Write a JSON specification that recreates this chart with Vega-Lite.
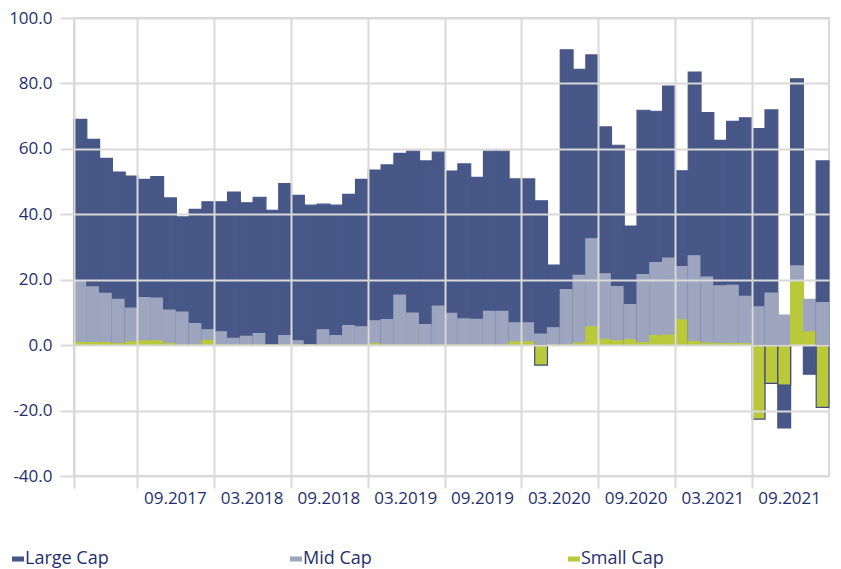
{
  "$schema": "https://vega.github.io/schema/vega-lite/v6.json",
  "width": 755,
  "height": 458,
  "autosize": {"type": "none"},
  "padding": {"left": 74, "top": 18, "right": 12, "bottom": 93},
  "background": "white",
  "config": {"font": "Open Sans", "view": {"stroke": "#d9d9d9", "strokeWidth": 2}},
  "data": {"values": [
    {"month": "04.2017", "Large Cap": 69.0, "Mid Cap": 19.6, "Small Cap": 0.8},
    {"month": "05.2017", "Large Cap": 62.9, "Mid Cap": 17.8, "Small Cap": 0.8},
    {"month": "06.2017", "Large Cap": 57.1, "Mid Cap": 15.8, "Small Cap": 0.8},
    {"month": "07.2017", "Large Cap": 52.9, "Mid Cap": 14.0, "Small Cap": 0.5},
    {"month": "08.2017", "Large Cap": 51.7, "Mid Cap": 11.3, "Small Cap": 1.0},
    {"month": "09.2017", "Large Cap": 50.7, "Mid Cap": 14.5, "Small Cap": 1.3},
    {"month": "10.2017", "Large Cap": 51.5, "Mid Cap": 14.4, "Small Cap": 1.3},
    {"month": "11.2017", "Large Cap": 45.0, "Mid Cap": 10.7, "Small Cap": 0.5},
    {"month": "12.2017", "Large Cap": 39.2, "Mid Cap": 10.1, "Small Cap": 0},
    {"month": "01.2018", "Large Cap": 41.5, "Mid Cap": 6.6, "Small Cap": 0},
    {"month": "02.2018", "Large Cap": 43.8, "Mid Cap": 4.7, "Small Cap": 1.5},
    {"month": "03.2018", "Large Cap": 43.8, "Mid Cap": 4.1, "Small Cap": 0},
    {"month": "04.2018", "Large Cap": 46.8, "Mid Cap": 2.1, "Small Cap": 0},
    {"month": "05.2018", "Large Cap": 43.5, "Mid Cap": 2.7, "Small Cap": 0},
    {"month": "06.2018", "Large Cap": 45.2, "Mid Cap": 3.5, "Small Cap": 0},
    {"month": "07.2018", "Large Cap": 41.2, "Mid Cap": 0, "Small Cap": 0},
    {"month": "08.2018", "Large Cap": 49.4, "Mid Cap": 2.9, "Small Cap": 0},
    {"month": "09.2018", "Large Cap": 45.8, "Mid Cap": 1.3, "Small Cap": 0},
    {"month": "10.2018", "Large Cap": 42.8, "Mid Cap": 0, "Small Cap": 0},
    {"month": "11.2018", "Large Cap": 43.1, "Mid Cap": 4.7, "Small Cap": 0},
    {"month": "12.2018", "Large Cap": 42.8, "Mid Cap": 2.9, "Small Cap": 0},
    {"month": "01.2019", "Large Cap": 46.1, "Mid Cap": 6.0, "Small Cap": 0},
    {"month": "02.2019", "Large Cap": 50.7, "Mid Cap": 5.6, "Small Cap": 0},
    {"month": "03.2019", "Large Cap": 53.5, "Mid Cap": 7.4, "Small Cap": 0.5},
    {"month": "04.2019", "Large Cap": 55.1, "Mid Cap": 7.8, "Small Cap": 0},
    {"month": "05.2019", "Large Cap": 58.6, "Mid Cap": 15.3, "Small Cap": 0},
    {"month": "06.2019", "Large Cap": 59.3, "Mid Cap": 9.8, "Small Cap": 0},
    {"month": "07.2019", "Large Cap": 56.3, "Mid Cap": 6.3, "Small Cap": 0},
    {"month": "08.2019", "Large Cap": 59.0, "Mid Cap": 11.9, "Small Cap": 0},
    {"month": "09.2019", "Large Cap": 53.2, "Mid Cap": 9.7, "Small Cap": 0},
    {"month": "10.2019", "Large Cap": 55.4, "Mid Cap": 8.0, "Small Cap": 0},
    {"month": "11.2019", "Large Cap": 51.3, "Mid Cap": 7.9, "Small Cap": 0},
    {"month": "12.2019", "Large Cap": 59.3, "Mid Cap": 10.3, "Small Cap": 0},
    {"month": "01.2020", "Large Cap": 59.3, "Mid Cap": 10.3, "Small Cap": 0},
    {"month": "02.2020", "Large Cap": 50.8, "Mid Cap": 6.8, "Small Cap": 1.0},
    {"month": "03.2020", "Large Cap": 50.8, "Mid Cap": 6.8, "Small Cap": 1.0},
    {"month": "04.2020", "Large Cap": 44.1, "Mid Cap": 3.4, "Small Cap": -6.1},
    {"month": "05.2020", "Large Cap": 24.5, "Mid Cap": 5.3, "Small Cap": 0},
    {"month": "06.2020", "Large Cap": 90.3, "Mid Cap": 17.0, "Small Cap": 0},
    {"month": "07.2020", "Large Cap": 84.3, "Mid Cap": 21.3, "Small Cap": 0.6},
    {"month": "08.2020", "Large Cap": 88.7, "Mid Cap": 32.5, "Small Cap": 5.6},
    {"month": "09.2020", "Large Cap": 66.7, "Mid Cap": 21.8, "Small Cap": 1.8},
    {"month": "10.2020", "Large Cap": 61.1, "Mid Cap": 17.9, "Small Cap": 1.3},
    {"month": "11.2020", "Large Cap": 36.4, "Mid Cap": 12.4, "Small Cap": 1.6},
    {"month": "12.2020", "Large Cap": 71.8, "Mid Cap": 21.6, "Small Cap": 0.8},
    {"month": "01.2021", "Large Cap": 71.5, "Mid Cap": 25.2, "Small Cap": 2.9},
    {"month": "02.2021", "Large Cap": 79.2, "Mid Cap": 26.6, "Small Cap": 3.1},
    {"month": "03.2021", "Large Cap": 53.3, "Mid Cap": 24.0, "Small Cap": 7.7},
    {"month": "04.2021", "Large Cap": 83.5, "Mid Cap": 27.3, "Small Cap": 1.1},
    {"month": "05.2021", "Large Cap": 71.1, "Mid Cap": 20.8, "Small Cap": 0.6},
    {"month": "06.2021", "Large Cap": 62.6, "Mid Cap": 18.1, "Small Cap": 0.5},
    {"month": "07.2021", "Large Cap": 68.4, "Mid Cap": 18.3, "Small Cap": 0.5},
    {"month": "08.2021", "Large Cap": 69.5, "Mid Cap": 14.9, "Small Cap": 0.5},
    {"month": "09.2021", "Large Cap": 66.2, "Mid Cap": 11.7, "Small Cap": -22.6},
    {"month": "10.2021", "Large Cap": 71.9, "Mid Cap": 15.9, "Small Cap": -11.7},
    {"month": "11.2021", "Large Cap": -25.3, "Mid Cap": 9.2, "Small Cap": -12.2},
    {"month": "12.2021", "Large Cap": 81.4, "Mid Cap": 24.2, "Small Cap": 19.6},
    {"month": "01.2022", "Large Cap": -8.9, "Mid Cap": 14.0, "Small Cap": 4.1},
    {"month": "02.2022", "Large Cap": 56.3, "Mid Cap": 13.0, "Small Cap": -19.0}
  ]},
  "transform": [{"fold": ["Large Cap", "Mid Cap", "Small Cap"], "as": ["series", "value"]}],
  "mark": {"type": "bar", "strokeWidth": 1.2},
  "encoding": {
    "x": {
      "field": "month", "type": "ordinal", "sort": null,
      "scale": {"paddingInner": 0, "paddingOuter": 0},
      "axis": {
        "values": ["04.2017", "09.2017", "03.2018", "09.2018", "03.2019", "09.2019", "03.2020", "09.2020", "03.2021", "09.2021"],
        "bandPosition": 0,
        "labelExpr": "datum.value == '04.2017' ? '' : datum.value",
        "labelOffset": 31,
        "labelAngle": 0,
        "labelOverlap": false,
        "grid": true, "gridColor": "#d9d9d9", "gridWidth": 2,
        "ticks": true, "tickColor": "#d9d9d9", "tickWidth": 2, "tickSize": 12,
        "domain": false,
        "labelPadding": 2, "labelFontSize": 17, "labelColor": "#1f2f6e",
        "title": null, "zindex": 1
      }
    },
    "y": {
      "field": "value", "type": "quantitative", "stack": null,
      "scale": {"domain": [-40, 100], "nice": false},
      "axis": {
        "values": [-40, -20, 0, 20, 40, 60, 80, 100],
        "format": ".1f",
        "labelExpr": "replace(datum.label, '\u2212', '-')",
        "grid": true, "gridColor": "#d9d9d9", "gridWidth": 2,
        "tickColor": "#d9d9d9", "tickWidth": 2, "tickSize": 14,
        "domain": false,
        "labelPadding": 8, "labelFontSize": 17, "labelColor": "#1f2f6e",
        "title": null, "zindex": 1
      }
    },
    "color": {
      "field": "series", "type": "nominal",
      "scale": {"domain": ["Large Cap", "Mid Cap", "Small Cap"], "range": ["#475787", "#9ea6bf", "#b9c93a"]},
      "legend": {
        "orient": "none", "legendX": -65, "legendY": 532,
        "direction": "horizontal", "columns": 3, "gridAlign": "all", "columnPadding": 178,
        "title": null,
        "symbolType": "M-1,-0.42L1,-0.42L1,0.42L-1,0.42Z", "symbolSize": 144, "symbolStrokeWidth": 0,
        "labelFontSize": 18, "labelColor": "#1f2f6e", "labelOffset": -2
      }
    },
    "stroke": {
      "condition": {"test": "datum.value < 0 && datum.series == 'Small Cap'", "value": "#3e4c82"},
      "field": "series", "type": "nominal",
      "scale": {"domain": ["Large Cap", "Mid Cap", "Small Cap"], "range": ["#475787", "#9ea6bf", "#b9c93a"]},
      "legend": null
    }
  }
}
